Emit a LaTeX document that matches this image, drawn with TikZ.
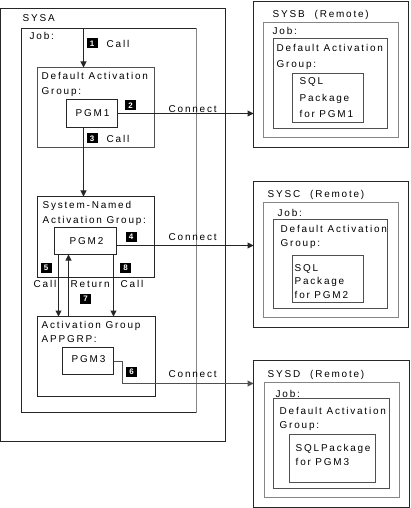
\documentclass[tikz,border=0pt]{standalone}
\usepackage{fontspec}
\newfontfamily\lblfont{Liberation Sans}[LetterSpace=18]
\newfontfamily\bdgfont{Liberation Sans}
\usetikzlibrary{arrows.meta}
\definecolor{dk}{HTML}{262626}
\definecolor{md}{HTML}{505050}
\definecolor{lt}{HTML}{858585}
\newcommand\mkbox[6]{\node[box,draw=#6,minimum width={(#4-#2)*1bp},minimum height={(#5-#3)*1bp}] (#1) at (#2,#3) {};}
\newcommand\mktext[4]{\node[lbl] (#1) at (#2,#3+3.6) {#4};}
\newcommand\mkbadge[4]{\node[badge] (#1) at (#2,#3) {#4};}
\begin{document}
\begin{tikzpicture}[x=1bp,y=-1bp,
  box/.style={line width=1bp,anchor=north west,inner sep=0,outer sep=0},
  lbl/.style={font=\lblfont\fontsize{10}{12}\selectfont,anchor=base west,inner sep=0},
  badge/.style={fill=black,text=white,font=\bdgfont\bfseries\fontsize{8}{8}\selectfont,minimum width=11bp,minimum height=10bp,inner sep=0},
  arr/.style={draw=dk,line width=1bp,-{Triangle[length=6bp,width=6bp]}},
  ln/.style={draw=dk,line width=1bp}]
\useasboundingbox (-0.5,-0.5) rectangle (409.5,507.5);
% SYSA side
\mkbox{sysa}{0}{8}{225}{441}{dk}
\mkbox{job}{21}{28}{196}{412}{dk}
\draw[lt,line width=1bp] (job.north east) -- (job.south east);
\mkbox{dag1}{37}{67}{154}{147}{md}
\mkbox{pgm1}{66}{99}{117}{127}{dk}
\mkbox{snag}{37}{196}{154}{277}{dk}
\mkbox{pgm2}{54}{227}{116}{254}{dk}
\mkbox{appgrp}{37}{316}{155}{396}{dk}
\mkbox{pgm3}{62}{347}{113}{374}{dk}
% remote systems
\mkbox{sysb}{253}{1}{408}{147}{dk}
\mkbox{sysbjob}{263}{22}{398}{137}{lt}
\mkbox{sysbdag}{273}{38}{387}{128}{md}
\mkbox{sysbsql}{292}{73}{363}{122}{md}
\mkbox{sysc}{253}{181}{408}{327}{dk}
\mkbox{syscjob}{263}{202}{398}{317}{lt}
\mkbox{syscdag}{273}{219}{387}{308}{md}
\mkbox{syscsql}{292}{255}{363}{302}{md}
\mkbox{sysd}{253}{360}{409}{507}{dk}
\mkbox{sysdjob}{264}{382}{399}{497}{lt}
\mkbox{sysddag}{273}{398}{389}{488}{md}
\mkbox{sysdsql}{289}{434}{375}{482}{md}
% texts left
\mktext{tsysa}{22}{17}{SYSA}
\mktext{tjob}{29}{35}{Job:}
\mktext{tcall1}{106}{43}{Call}
\mktext{tdag1a}{41}{75}{Default Activation}
\mktext{tdag1b}{41}{90}{Group:}
\node[font=\lblfont\fontsize{10}{12}\selectfont,inner sep=0] (tpgm1) at (92,113) {PGM1};
\mktext{tcon1}{168}{108}{Connect}
\mktext{tcall3}{106}{138}{Call}
\mktext{tsn1}{42}{204}{System-Named}
\mktext{tsn2}{42}{219}{Activation Group:}
\node[font=\lblfont\fontsize{10}{12}\selectfont,inner sep=0] (tpgm2) at (86,241) {PGM2};
\mktext{tcon2}{168}{236}{Connect}
\mktext{tcall5}{33}{283}{Call}
\mktext{tret}{70}{283}{Return}
\mktext{tcall8}{120}{283}{Call}
\mktext{tap1}{41}{324}{Activation Group}
\mktext{tap2}{41}{338}{APPGRP:}
\node[font=\lblfont\fontsize{10}{12}\selectfont,inner sep=0] (tpgm3) at (88,359) {PGM3};
\mktext{tcon3}{168}{373}{Connect}
% texts right
\mktext{tsysb}{272}{13}{SYSB\hspace{10bp}(Remote)}
\mktext{tjobb}{272}{30}{Job:}
\mktext{tdagba}{276}{47}{Default Activation}
\mktext{tdagbb}{276}{63}{Group:}
\mktext{tsqlb1}{299}{80}{SQL}
\mktext{tsqlb2}{299}{97}{Package}
\mktext{tsqlb3}{299}{113}{for PGM1}
\mktext{tsysc}{267}{193}{SYSC\hspace{10bp}(Remote)}
\mktext{tjobc}{277}{212}{Job:}
\mktext{tdagca}{280}{228}{Default Activation}
\mktext{tdagcb}{280}{242}{Group:}
\mktext{tsqlc1}{294}{267}{SQL}
\mktext{tsqlc2}{294}{280}{Package}
\mktext{tsqlc3}{294}{294}{for PGM2}
\mktext{tsysd}{267}{373}{SYSD\hspace{10bp}(Remote)}
\mktext{tjobd}{275}{393}{Job:}
\mktext{tdagda}{279}{410}{Default Activation}
\mktext{tdagdb}{279}{424}{Group:}
\mktext{tsqld1}{295}{447}{SQLPackage}
\mktext{tsqld2}{295}{461}{for PGM3}
% badges
\mkbadge{b1}{91.5}{43}{1}
\mkbadge{b2}{130}{105}{2}
\mkbadge{b3}{91.5}{138}{3}
\mkbadge{b4}{130.5}{236}{4}
\mkbadge{b5}{45.5}{267}{5}
\mkbadge{b6}{131}{371}{6}
\mkbadge{b7}{85}{298}{7}
\mkbadge{b8}{125}{267}{8}
% connectors
\coordinate (xa) at (83,0);
\coordinate (y4) at (0,245);
\coordinate (x6) at (122,0);
\coordinate (y6) at (0,383);
\coordinate (x5) at (58,0);
\coordinate (x7) at (68,0);
\coordinate (x8) at (113,0);
\draw[arr] (xa |- job.north) -- (xa |- dag1.north);
\draw[arr] (xa |- pgm1.south) -- (xa |- snag.north);
\draw[arr] (pgm1.east) -- (pgm1.east -| sysb.west);
\draw[arr] (pgm2.east |- y4) -- (sysc.west |- y4);
\draw[arr,draw=md] (pgm3.east) -| (x6 |- y6) -- (sysd.west |- y6);
\draw[arr] (x5 |- pgm2.south) -- (x5 |- appgrp.north);
\draw[arr] (x7 |- appgrp.north) -- (x7 |- pgm2.south);
\draw[arr] (x8 |- pgm2.south) -- (x8 |- appgrp.north);
\end{tikzpicture}
\end{document}
